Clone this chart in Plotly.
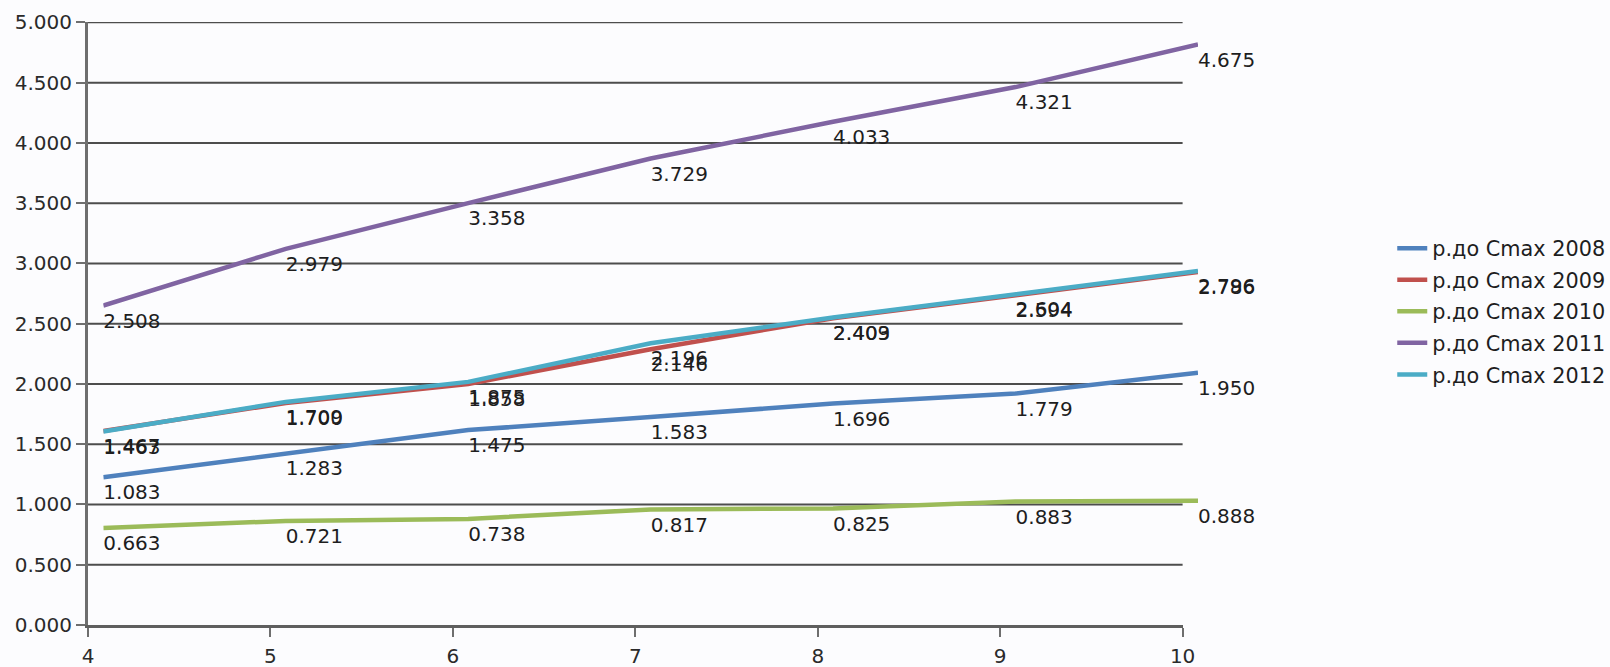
import plotly.graph_objects as go

x_vals = [4, 5, 6, 7, 8, 9, 10]
series_names = ["р.до Cmax 2008", "р.до Cmax 2009", "р.до Cmax 2010", "р.до Cmax 2011", "р.до Cmax 2012"]
v2008 = [1.083, 1.283, 1.475, 1.583, 1.696, 1.779, 1.950]
v2009 = [1.467, 1.700, 1.858, 2.146, 2.403, 2.594, 2.786]
v2010 = [0.663, 0.721, 0.738, 0.817, 0.825, 0.883, 0.888]
v2011 = [2.508, 2.979, 3.358, 3.729, 4.033, 4.321, 4.675]
v2012 = [1.463, 1.709, 1.875, 2.196, 2.409, 2.604, 2.796]
y_ticks = [0, 0.5, 1, 1.5, 2, 2.5, 3, 3.5, 4, 4.5, 5]
x_ticks = [4, 5, 6, 7, 8, 9, 10]

series_values = [v2008, v2009, v2010, v2011, v2012]
colors = ["#4f81bd", "#c0504d", "#9bbb59", "#8064a2", "#4bacc6"]

FONT = "DejaVu Sans"
fig = go.Figure()

# empty trace so the main (visible) axes get drawn
fig.add_trace(go.Scatter(x=[None], y=[None], mode="lines", showlegend=False,
                         hoverinfo="skip", xaxis="x", yaxis="y"))

# data lines (the plot area of the reference is offset a little from its axes)
for name, vals, col in zip(series_names, series_values, colors):
    fig.add_trace(go.Scatter(
        x=x_vals, y=vals, mode="lines", name=name,
        line=dict(color=col, width=4.5),
        xaxis="x2", yaxis="y2", legendgroup=name,
    ))

# value labels
for name, vals in zip(series_names, series_values):
    fig.add_trace(go.Scatter(
        x=x_vals, y=vals, mode="text",
        text=[f"{v:.3f}" for v in vals],
        textposition="middle right",
        textfont=dict(family=FONT, size=20, color="#1e1e1e"),
        xaxis="x2", yaxis="y", showlegend=False, hoverinfo="skip",
        cliponaxis=False,
    ))

# horizontal gridlines spanning only the visible x axis
for t in y_ticks[1:]:
    fig.add_shape(type="line", xref="x domain", yref="y", x0=0, x1=1, y0=t, y1=t,
                  line=dict(color="#4d4d4d", width=2), layer="below")

bg = "#fcfcfe"
fig.update_layout(
    width=1610, height=667,
    margin=dict(l=88, r=412, t=22, b=42, autoexpand=False),
    paper_bgcolor=bg, plot_bgcolor="rgba(0,0,0,0)",
    font=dict(family=FONT, size=20, color="#2a2a2a"),
    showlegend=True,
    legend=dict(
        x=1.175, xanchor="left", y=0.658, yanchor="top",
        font=dict(family=FONT, size=20.8, color="#1e1e1e"),
        bgcolor="rgba(0,0,0,0)", tracegroupgap=1.5,
    ),
    xaxis=dict(
        domain=[0, 0.98613],
        range=[4, 10], tickvals=x_ticks, ticktext=[str(t) for t in x_ticks],
        showgrid=False, zeroline=False,
        showline=True, linecolor="#5e5e5e", linewidth=3,
        ticks="outside", ticklen=9, tickwidth=2, tickcolor="#6e6e6e",
        ticklabelstandoff=2,
        tickfont=dict(family=FONT, size=20, color="#2a2a2a"),
        fixedrange=True,
    ),
    yaxis=dict(
        range=[0, 5.003], tickvals=y_ticks, ticktext=[f"{t:.3f}" for t in y_ticks],
        showgrid=False, zeroline=False,
        showline=True, linecolor="#6e6e6e", linewidth=3,
        ticks="outside", ticklen=9, tickwidth=2, tickcolor="#6e6e6e",
        tickfont=dict(family=FONT, size=20, color="#2a2a2a"),
        fixedrange=True,
    ),
    xaxis2=dict(domain=[0.01378, 1], range=[4, 10], anchor="y2",
                visible=False, fixedrange=True),
    yaxis2=dict(range=[-0.142, 5.003 - 0.142], overlaying="y", anchor="x2",
                visible=False, fixedrange=True),
)

fig.write_html("out.html")
